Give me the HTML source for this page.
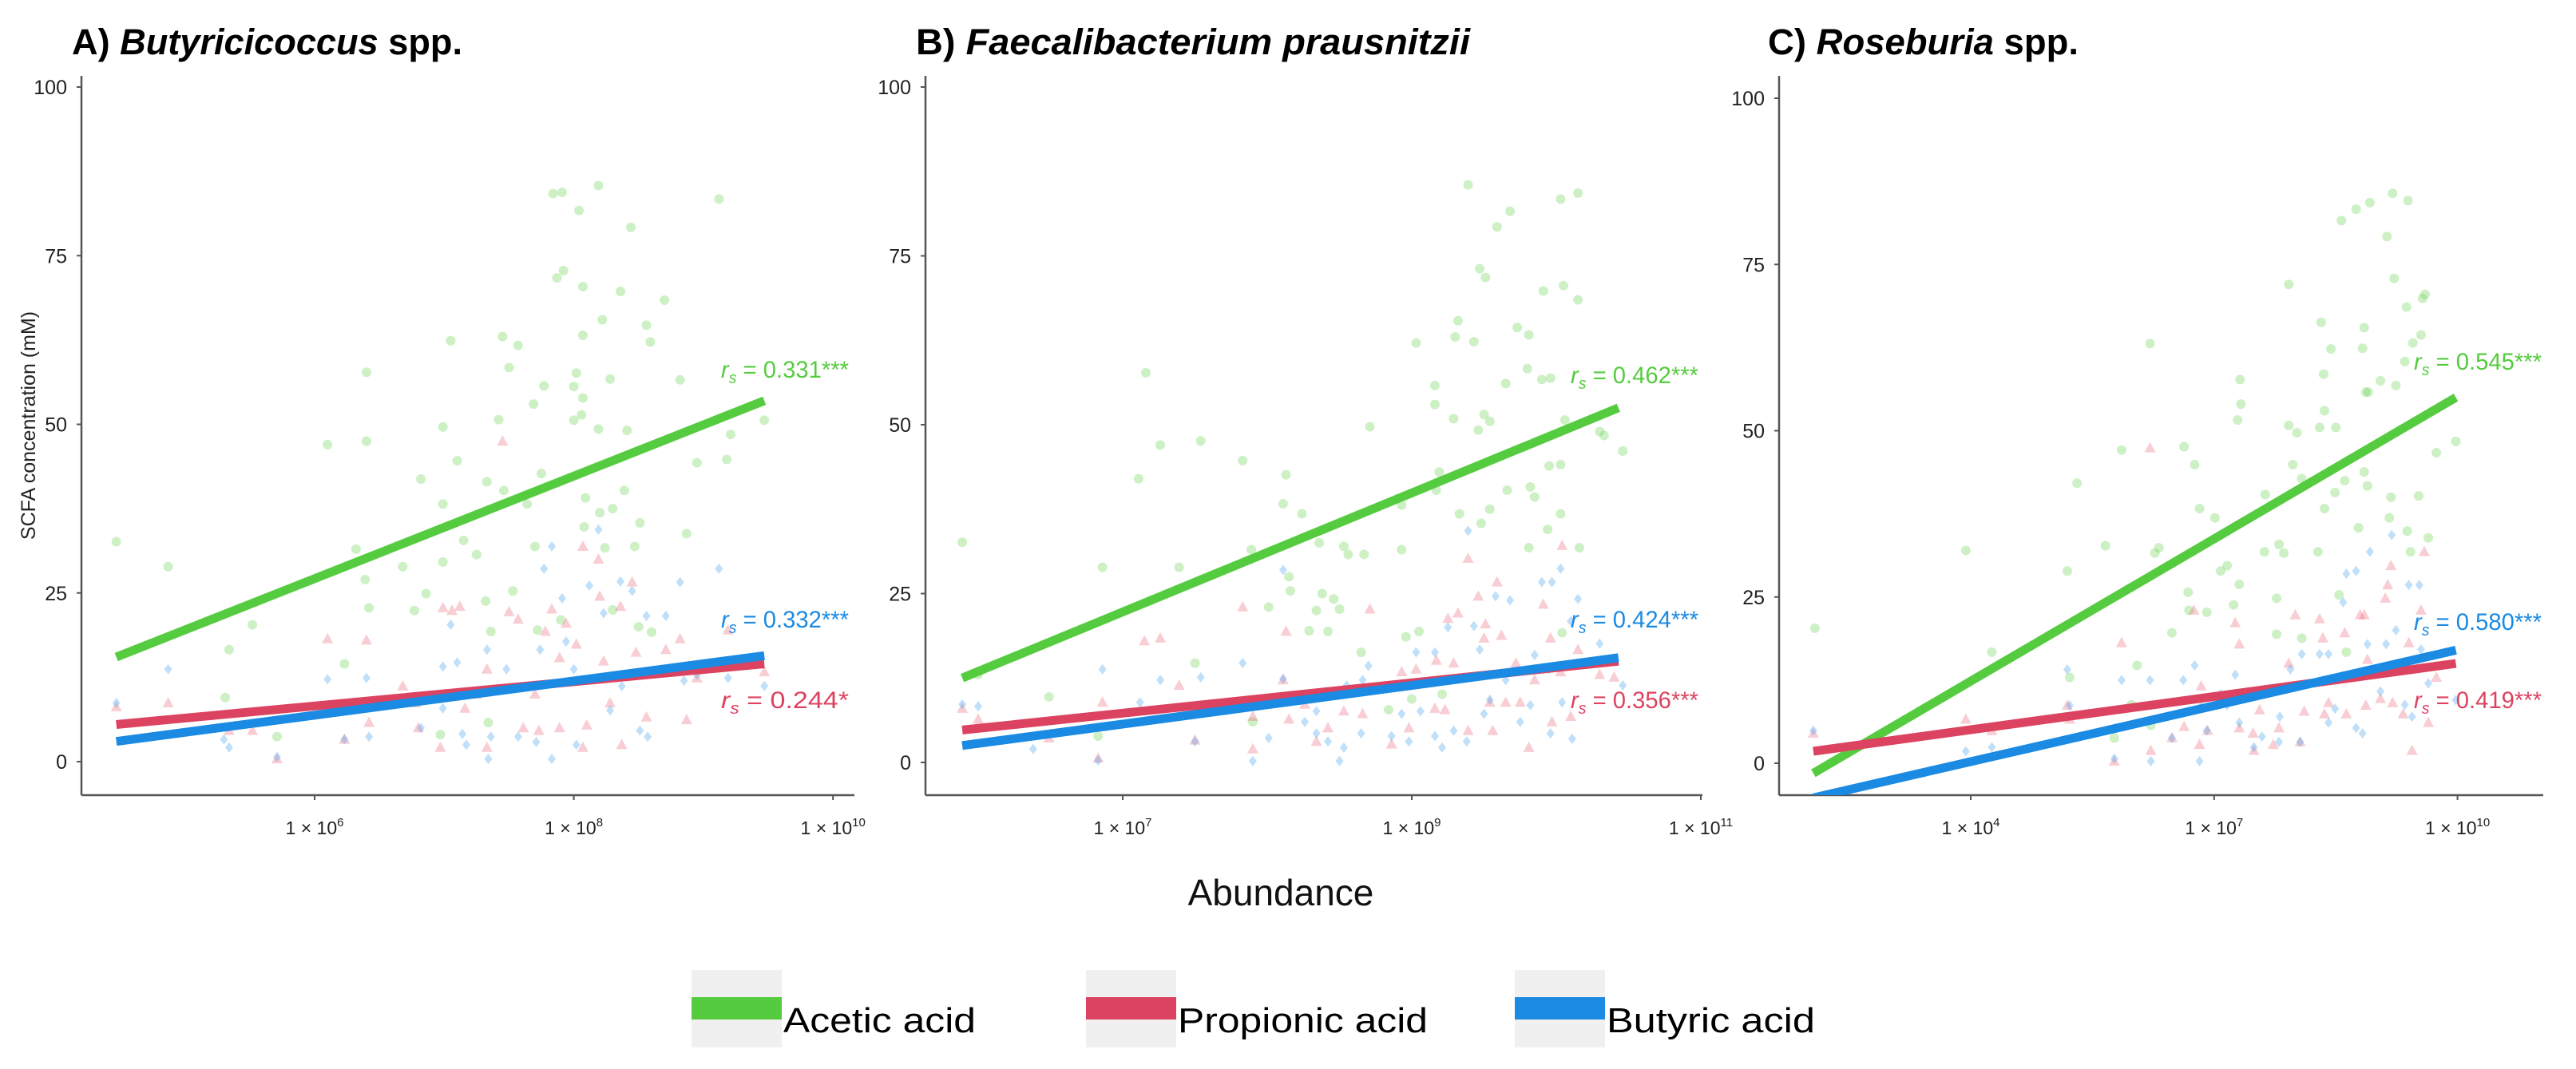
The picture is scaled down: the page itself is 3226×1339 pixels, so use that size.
<!DOCTYPE html>
<html><head><meta charset="utf-8"><style>
html,body{margin:0;padding:0;background:#fff;}
svg{display:block;font-family:"Liberation Sans",sans-serif;}
</style></head><body>
<svg id="fig" width="3226" height="1339" viewBox="0 0 3226 1339">
<rect width="3226" height="1339" fill="#fff"/>
<defs>
<clipPath id="clipA"><rect x="102" y="95" width="968" height="901"/></clipPath>
<clipPath id="clipB"><rect x="1159" y="95" width="973" height="901"/></clipPath>
<clipPath id="clipC"><rect x="2228" y="95" width="957" height="901"/></clipPath>
</defs>
<text x="90" y="68" font-size="45" font-weight="bold" textLength="489" lengthAdjust="spacingAndGlyphs">A) <tspan font-style="italic">Butyricicoccus</tspan> spp.</text>
<text x="1147" y="68" font-size="45" font-weight="bold" textLength="694" lengthAdjust="spacingAndGlyphs">B) <tspan font-style="italic">Faecalibacterium prausnitzii</tspan></text>
<text x="2214" y="68" font-size="45" font-weight="bold" textLength="389" lengthAdjust="spacingAndGlyphs">C) <tspan font-style="italic">Roseburia</tspan> spp.</text>
<text transform="translate(44,533) rotate(-90)" text-anchor="middle" font-size="25" fill="#222">SCFA concentration (mM)</text>
<text x="1604" y="1134" text-anchor="middle" font-size="46" fill="#111">Abundance</text>
<g>
<g><rect x="866" y="1215" width="113" height="97" fill="#f0f0f0"/><rect x="866" y="1249" width="113" height="28" fill="#55cc3f"/><text x="981" y="1293" font-size="44" textLength="241" lengthAdjust="spacingAndGlyphs">Acetic acid</text></g>
<g><rect x="1360" y="1215" width="113" height="97" fill="#f0f0f0"/><rect x="1360" y="1249" width="113" height="28" fill="#dc4360"/><text x="1475" y="1293" font-size="44" textLength="313" lengthAdjust="spacingAndGlyphs">Propionic acid</text></g>
<g><rect x="1897" y="1215" width="113" height="97" fill="#f0f0f0"/><rect x="1897" y="1249" width="113" height="28" fill="#1a8ae3"/><text x="2012" y="1293" font-size="44" textLength="261" lengthAdjust="spacingAndGlyphs">Butyric acid</text></g>
</g>
</svg>
<script>
// ---- data ----
const yTicks = [0, 25, 50, 75, 100];
const xTicksA = [6, 8, 10];
const xTicksB = [7, 9, 11];
const xTicksC = [4, 7, 10];
const rsA = ["0.331***", "0.332***", "0.244*"];
const rsB = ["0.462***", "0.424***", "0.356***"];
const rsC = ["0.545***", "0.580***", "0.419***"];
// fit lines: [lgStart, lgEnd, vStart, vEnd]
const fitA_acetic = [4.47, 9.47, 15.5, 53.5];
const fitA_propionic = [4.47, 9.47, 5.5, 14.5];
const fitA_butyric = [4.47, 9.47, 3, 15.7];
const fitB_acetic = [5.89, 10.43, 12.5, 52.5];
const fitB_propionic = [5.89, 10.43, 4.8, 15];
const fitB_butyric = [5.89, 10.43, 2.5, 15.5];
const fitC_acetic = [2.06, 9.98, -1.5, 55];
const fitC_propionic = [2.06, 9.98, 1.8, 15];
const fitC_butyric = [2.06, 9.98, -5.2, 17];
// points [log10 abundance, mM]
const ptsA_acetic = [[4.47,32.6],[4.87,28.9],[5.52,20.3],[5.34,16.6],[5.31,9.5],[5.71,3.7],[6.1,47],[6.23,14.5],[6.4,57.7],[6.4,47.5],[6.39,27],[6.42,22.8],[6.32,31.5],[6.68,28.9],[6.82,41.9],[6.77,22.4],[6.86,24.9],[6.99,49.6],[6.99,38.2],[6.99,29.6],[6.97,4],[7.05,62.4],[7.1,44.6],[7.15,32.8],[7.25,30.7],[7.33,41.5],[7.32,23.8],[7.36,19.3],[7.34,5.8],[7.42,50.7],[7.45,63],[7.5,58.4],[7.46,40.2],[7.53,25.3],[7.57,61.7],[7.69,53],[7.64,38.2],[7.7,31.9],[7.77,55.7],[7.75,42.7],[7.84,84.2],[7.91,84.4],[7.87,71.7],[7.92,72.8],[8.04,81.7],[8.07,70.4],[8.07,63.2],[8.0,55.6],[8.0,50.6],[8.06,51.4],[8.07,53.9],[8.02,57.6],[8.09,39.1],[8.08,34.8],[8.19,85.4],[8.22,65.5],[8.28,56.7],[8.19,49.3],[8.2,36.9],[8.24,31.7],[8.3,37.5],[8.44,79.2],[8.36,69.7],[8.41,49.1],[8.39,40.2],[8.51,35.4],[8.47,31.9],[8.56,64.7],[8.59,62.2],[8.7,68.4],[8.82,56.6],[8.95,44.3],[8.87,33.8],[9.12,83.4],[9.21,48.5],[9.18,44.8],[9.47,50.6],[7.72,19.5],[7.9,21],[8.3,22.5],[8.5,20],[8.6,19.2]];
const ptsA_propionic = [[4.47,8.1],[4.87,8.7],[5.34,4.6],[5.52,4.6],[5.71,0.4],[6.1,18.2],[6.4,18],[6.23,3.3],[6.42,5.8],[6.68,11.2],[6.78,8.7],[6.8,5],[6.99,22.8],[7.06,22.4],[7.12,23],[6.97,2.1],[7.16,7.9],[7.25,10],[7.33,13.7],[7.45,47.5],[7.5,22.2],[7.57,21.1],[7.61,5],[7.7,10],[7.78,19.3],[7.83,22.6],[7.89,15.4],[7.94,20.5],[8.02,17.4],[8.07,31.9],[8.1,5.4],[8.07,2.1],[8.19,30],[8.2,24.5],[8.23,14.9],[8.28,8.7],[8.36,23],[8.45,26.6],[8.37,2.5],[8.48,16.2],[8.58,13.3],[8.56,6.6],[8.71,16.6],[8.82,18.2],[8.87,6.2],[9.19,19.5],[9.47,13.3],[8.95,12.4],[7.33,2.1],[7.73,4.6],[7.89,5]];
const ptsA_butyric = [[4.47,8.7],[4.87,13.7],[5.34,2.1],[5.3,3.3],[5.71,0.7],[6.1,12.2],[6.4,12.4],[6.42,3.7],[6.23,3.3],[6.82,5],[6.99,14.1],[7.1,14.7],[7.05,20.3],[6.99,7.9],[7.14,4.1],[7.17,2.5],[7.33,16.6],[7.34,0.4],[7.36,3.7],[7.48,13.7],[7.57,3.7],[7.71,2.9],[7.74,16.6],[7.77,28.6],[7.83,31.9],[7.83,0.4],[7.91,24.2],[7.94,17.8],[8.0,13.7],[8.02,2.5],[8.19,34.4],[8.12,26.1],[8.23,22],[8.28,7.6],[8.36,26.7],[8.45,25.3],[8.37,11.2],[8.51,4.6],[8.56,21.6],[8.57,3.7],[8.71,21.6],[8.82,26.6],[8.85,12],[9.12,28.6],[8.95,12.9],[9.47,11.2],[9.19,12.4]];
const ptsB_acetic = [[5.89,32.6],[6.0,13],[6.49,9.7],[6.83,3.9],[6.86,28.9],[7.11,42],[7.16,57.7],[7.26,47],[7.39,28.9],[7.5,14.7],[7.54,47.6],[7.83,44.7],[7.89,31.5],[7.9,6],[8.01,23],[8.11,38.3],[8.13,42.6],[8.15,27.5],[8.16,25.4],[8.24,36.8],[8.29,19.5],[8.34,22.5],[8.36,32.5],[8.38,25],[8.42,19.4],[8.46,24.2],[8.5,22.7],[8.53,32],[8.56,30.8],[8.65,16.3],[8.67,30.8],[8.71,49.7],[8.84,7.8],[8.93,31.5],[8.93,38.1],[8.96,18.6],[9.0,9.4],[9.03,62.1],[9.05,19.4],[9.16,55.8],[9.16,53],[9.17,40.3],[9.19,43],[9.21,10.1],[9.29,50.9],[9.3,63],[9.32,65.4],[9.33,36.8],[9.39,85.5],[9.43,62.3],[9.46,49.2],[9.47,73.1],[9.48,35.4],[9.51,71.8],[9.5,51.5],[9.54,50.5],[9.54,37.5],[9.59,79.3],[9.65,56.1],[9.66,40.3],[9.68,81.6],[9.73,64.4],[9.8,58.3],[9.81,63.3],[9.82,40.8],[9.81,31.8],[9.85,39.3],[9.91,69.8],[9.9,56.7],[9.96,56.9],[9.95,43.9],[9.94,34.5],[10.03,83.4],[10.05,70.6],[10.03,44.1],[10.03,36.8],[10.04,19.2],[10.15,84.3],[10.15,68.5],[10.16,31.8],[10.3,49],[10.33,48.4],[10.46,46.1],[10.06,50.7]];
const ptsB_propionic = [[5.89,8],[6.0,6.4],[6.49,3.6],[6.83,0.6],[6.86,8.9],[7.15,18],[7.26,18.4],[7.39,11.4],[7.5,3.3],[7.83,23],[7.9,2],[7.9,6.8],[8.13,19.4],[8.11,12.2],[8.15,6.4],[8.26,8.6],[8.34,3.1],[8.42,5.1],[8.53,7.6],[8.66,7.2],[8.71,22.7],[8.86,2.7],[8.93,13.4],[8.98,5.1],[9.03,13.8],[9.16,8],[9.17,15.1],[9.23,7.8],[9.25,21.3],[9.29,14.7],[9.32,22.1],[9.39,30.2],[9.39,4.7],[9.46,24.6],[9.5,18.4],[9.51,20.5],[9.54,8.9],[9.56,4.7],[9.59,26.7],[9.62,18.8],[9.65,8.9],[9.72,14.7],[9.75,8.9],[9.81,2.2],[9.85,12.2],[9.91,23.4],[9.96,18.4],[9.97,6],[10.04,32.1],[10.03,13.4],[10.1,6.8],[10.15,16.7],[10.3,13],[10.4,12.6]];
const ptsB_butyric = [[5.89,8.6],[6.0,8.3],[6.38,2],[6.83,0.3],[6.86,13.8],[7.12,8.9],[7.26,12.2],[7.5,3.1],[7.54,12.6],[7.83,14.7],[7.9,0.2],[8.01,3.6],[8.11,28.5],[8.11,12.4],[8.26,6],[8.34,4.3],[8.34,7.6],[8.42,3.1],[8.5,0.2],[8.53,2.2],[8.55,11.4],[8.65,4.3],[8.66,12.2],[8.7,14.3],[8.86,3.9],[8.93,7.2],[8.98,3.1],[9.03,16.3],[9.06,7.6],[9.16,3.9],[9.16,16.3],[9.21,2.2],[9.25,20],[9.29,4.7],[9.36,12.6],[9.38,3.1],[9.39,34.3],[9.43,20.2],[9.47,16.7],[9.5,7.2],[9.54,9.3],[9.58,24.6],[9.65,12.2],[9.68,24],[9.75,6],[9.82,8.5],[9.85,15.9],[9.9,26.7],[9.97,26.7],[9.95,13.8],[9.96,4.3],[10.03,28.7],[10.04,8.9],[10.1,20.9],[10.15,24.2],[10.11,3.5],[10.3,17.6],[10.46,11.4]];
const ptsC_acetic = [[2.08,20.3],[3.94,32],[4.26,16.7],[5.19,28.9],[5.22,12.9],[5.31,42.1],[5.66,32.7],[5.77,3.8],[5.86,47.1],[5.98,8.8],[6.05,14.7],[6.21,63.1],[6.22,5.7],[6.27,31.6],[6.32,32.4],[6.48,19.6],[6.63,47.6],[6.68,25.7],[6.69,23],[6.76,44.9],[6.82,38.3],[6.91,22.7],[7.01,36.9],[7.08,28.9],[7.16,29.7],[7.24,23.8],[7.29,51.6],[7.31,26.9],[7.32,57.7],[7.33,54],[7.62,31.8],[7.63,40.4],[7.77,24.8],[7.77,19.4],[7.8,32.9],[7.86,31.6],[7.92,72],[7.92,50.8],[7.97,44.9],[8.02,49.7],[8.08,42.8],[8.08,18.8],[8.28,31.8],[8.3,50.5],[8.32,66.3],[8.35,58.5],[8.36,53],[8.36,38.3],[8.44,62.3],[8.5,50.5],[8.49,40.7],[8.54,25.3],[8.57,81.6],[8.61,42.5],[8.63,16.7],[8.75,83.3],[8.78,35.4],[8.83,62.4],[8.85,65.5],[8.85,43.8],[8.87,55.8],[8.9,55.8],[8.89,41.7],[8.92,84.3],[9.05,57.5],[9.13,79.2],[9.16,36.9],[9.18,40],[9.2,85.7],[9.22,72.9],[9.24,56.8],[9.35,60.4],[9.37,68.6],[9.38,34.9],[9.39,84.6],[9.42,31.8],[9.45,63.2],[9.52,40.2],[9.55,64.4],[9.57,69.9],[9.6,70.5],[9.64,33.9],[9.74,46.7],[9.98,48.4]];
const ptsC_propionic = [[2.06,4.5],[3.94,6.6],[4.26,4.9],[5.19,8.7],[5.22,6.6],[5.77,0.3],[5.86,18.1],[6.21,47.4],[6.22,1.9],[6.48,3.8],[6.63,5.5],[6.75,23],[6.82,2.8],[6.84,11.6],[6.92,4.9],[7.26,21.1],[7.31,17.9],[7.31,5.3],[7.56,8],[7.48,4.5],[7.49,1.9],[7.73,2.8],[7.8,5.3],[7.92,15],[8.0,22.3],[8.06,3.2],[8.11,7.8],[8.3,21.7],[8.34,18.8],[8.36,7.4],[8.41,9.1],[8.61,19.6],[8.63,7.4],[8.8,22.3],[8.85,22.3],[8.87,8.7],[8.89,15.6],[9.05,9.7],[9.11,24.8],[9.14,26.8],[9.18,29.7],[9.2,9.1],[9.33,7.4],[9.44,1.9],[9.4,18.1],[9.55,23],[9.59,31.8],[9.64,6.1],[9.74,12.9]];
const ptsC_butyric = [[2.06,4.9],[3.94,1.8],[4.26,2.4],[5.19,14.1],[5.22,8.7],[5.77,0.7],[5.86,12.5],[6.21,12.5],[6.22,0.3],[6.48,3.8],[6.62,12.5],[6.76,14.7],[6.82,0.3],[6.84,8.5],[6.91,4.9],[7.08,10.4],[7.16,8.7],[7.26,13.3],[7.31,6.1],[7.49,2.4],[7.59,4],[7.8,3.2],[7.81,7],[7.94,14.1],[8.08,16.4],[8.06,3.2],[8.3,16.4],[8.41,16.4],[8.41,6.1],[8.49,8.2],[8.59,24.2],[8.63,28.5],[8.75,28.9],[8.75,5.3],[8.83,4.5],[8.89,17.9],[8.92,31.8],[9.05,10.8],[9.12,17.9],[9.19,34.3],[9.24,20],[9.35,8.8],[9.4,26.8],[9.44,7],[9.53,26.8],[9.55,17.1],[9.64,12],[9.98,9.5],[9.42,14.1]];

// ---- layout ----
const NS = "http://www.w3.org/2000/svg";
const svg = document.getElementById("fig");
const COL = {acetic:"#55cc3f", propionic:"#dc4360", butyric:"#1a8ae3"};
const PT = {acetic:"#6fd35a", propionic:"#ec6f80", butyric:"#4aa3ee"};
function mk(tag, attrs, parent){const e=document.createElementNS(NS,tag);for(const k in attrs)e.setAttribute(k,attrs[k]);(parent||svg).appendChild(e);return e;}

function panel(id, ax, fits, pts, xt, rs){
  const X = lg => ax.x0 + (lg - ax.lg0) * ax.dec;
  const Y = v => ax.y0 - v * ax.pu;
  const g = mk("g", {});
  
  
  const yl = mk("line", {x1:ax.ax, y1:95, x2:ax.ax, y2:996, stroke:"#555", "stroke-width":2.5}, g);
  
  
  const xl = mk("line", {x1:ax.ax, y1:996, x2:ax.right, y2:996, stroke:"#555", "stroke-width":2.5}, g);
  
  
  yTicks.forEach(v => {
    mk("line", {x1:ax.ax-6, y1:Y(v), x2:ax.ax, y2:Y(v), stroke:"#555", "stroke-width":2}, g);
    const t = mk("text", {x:ax.ax-18, y:Y(v)+9, "text-anchor":"end", "font-size":25, fill:"#222"}, g);
    t.textContent = v;
    
    
  });
  xt.forEach(lg => {
    mk("line", {x1:X(lg), y1:996, x2:X(lg), y2:1002, stroke:"#555", "stroke-width":2}, g);
    const t = mk("text", {x:X(lg), y:1045, "text-anchor":"middle", "font-size":23, fill:"#222"}, g);
    
    
    t.appendChild(document.createTextNode("1 × 10"));
    const s = mk("tspan", {"font-size":15, dy:-10}, t);
    s.textContent = lg;
  });
  const pg = mk("g", {"clip-path":"url(#clip" + id + ")"}, g);
  pts.acetic.forEach(p => {
    const c = mk("circle", {cx:X(p[0]), cy:Y(p[1]), r:6, fill:PT.acetic, "fill-opacity":0.35}, pg);
    
    
  });
  pts.propionic.forEach(p => {
    const x = X(p[0]), y = Y(p[1]);
    const c = mk("polygon", {points:`${x},${y-7.5} ${x-7},${y+5.5} ${x+7},${y+5.5}`, fill:PT.propionic, "fill-opacity":0.35}, pg);
    
    
  });
  pts.butyric.forEach(p => {
    const x = X(p[0]), y = Y(p[1]);
    const c = mk("polygon", {points:`${x},${y-6.5} ${x+5},${y} ${x},${y+6.5} ${x-5},${y}`, fill:PT.butyric, "fill-opacity":0.35}, pg);
    
    
  });
  ["acetic","propionic","butyric"].forEach(k => {
    const f = fits[k];
    const l = mk("line", {x1:X(f[0]), y1:Y(f[2]), x2:X(f[1]), y2:Y(f[3]), stroke:COL[k], "stroke-width":11}, pg);
    
    
  });
  const labs = [["acetic", rs[0], ax.rsY[0]], ["butyric", rs[1], ax.rsY[1]], ["propionic", rs[2], ax.rsY[2]]];
  labs.forEach(L => {
    const t = mk("text", {x:ax.rsX, y:L[2], "font-size":30, fill:COL[L[0]], textLength:160, lengthAdjust:"spacingAndGlyphs"}, g);
    
    
    const r = mk("tspan", {"font-style":"italic"}, t); r.textContent = "r";
    const s = mk("tspan", {"font-style":"italic", "font-size":20, dy:7}, t); s.textContent = "s";
    const v = mk("tspan", {dy:-7}, t); v.textContent = " = " + L[1];
  });
}

panel("A", {x0:394, lg0:6, dec:162.3, y0:954, pu:8.45, ax:102, right:1070, rsX:903, rsY:[473,786,887]},
  {acetic:fitA_acetic, propionic:fitA_propionic, butyric:fitA_butyric},
  {acetic:ptsA_acetic, propionic:ptsA_propionic, butyric:ptsA_butyric}, xTicksA, rsA);
panel("B", {x0:1406, lg0:7, dec:181, y0:955, pu:8.46, ax:1159, right:2132, rsX:1967, rsY:[480,786,887]},
  {acetic:fitB_acetic, propionic:fitB_propionic, butyric:fitB_butyric},
  {acetic:ptsB_acetic, propionic:ptsB_propionic, butyric:ptsB_butyric}, xTicksB, rsB);
panel("C", {x0:2468, lg0:4, dec:101.6, y0:956, pu:8.33, ax:2228, right:3185, rsX:3023, rsY:[463,789,887]},
  {acetic:fitC_acetic, propionic:fitC_propionic, butyric:fitC_butyric},
  {acetic:ptsC_acetic, propionic:ptsC_propionic, butyric:ptsC_butyric}, xTicksC, rsC);
</script>
</body></html>
